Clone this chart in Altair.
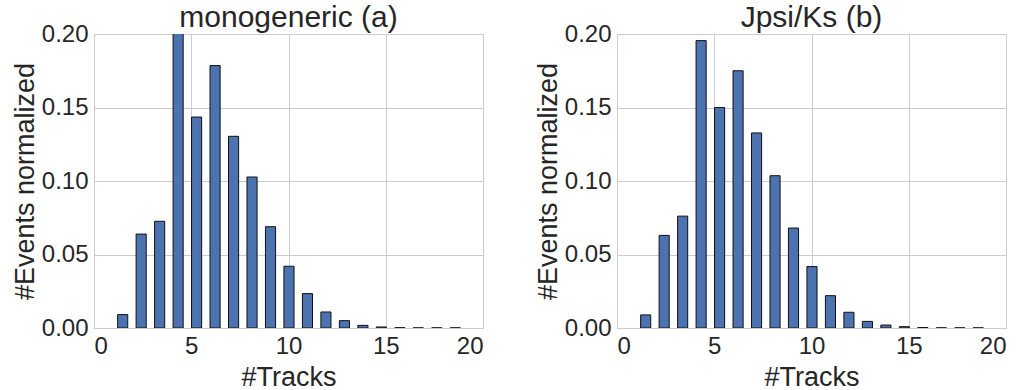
import altair as alt
import pandas as pd

# Histogram bin centres (#Tracks) shared by both samples
bin_centers = [1.475, 2.425, 3.375, 4.325, 5.275, 6.225, 7.175, 8.125, 9.075, 10.025,
               10.975, 11.925, 12.875, 13.825, 14.775, 15.725, 16.675, 17.625, 18.575]

# Normalized event fractions per bin
monogeneric = [0.0091, 0.0639, 0.0726, 0.203, 0.1435, 0.1785, 0.1304, 0.1027, 0.0689, 0.0420,
               0.0234, 0.0109, 0.0050, 0.0018, 0.0007, 0.0002, 0.0001, 0.0001, 0.0001]
jpsi_ks = [0.0089, 0.0630, 0.0761, 0.1955, 0.1500, 0.1750, 0.1327, 0.1036, 0.0680, 0.0418,
           0.0220, 0.0107, 0.0045, 0.0020, 0.0009, 0.0003, 0.0001, 0.0001, 0.0001]

panel_titles = ["monogeneric (a)", "Jpsi/Ks (b)"]
x_ticks = [0, 5, 10, 15, 20]
y_ticks = [0.0, 0.05, 0.10, 0.15, 0.20]

HALF_BAR = 0.26
FONT = "Liberation Sans"
TEXT = "#262626"
BAR = "#4C72B0"


def panel(values, title):
    df = pd.DataFrame({"center": bin_centers, "frac": values})
    return (
        alt.Chart(df, title=alt.Title(title, fontSize=30, font=FONT, color=TEXT,
                                      fontWeight="normal", offset=-11))
        .transform_calculate(lo=f"datum.center - {HALF_BAR}", hi=f"datum.center + {HALF_BAR}")
        .mark_bar(fill=BAR, stroke="#111111", strokeWidth=1, clip=True)
        .encode(
            x=alt.X("lo:Q", scale=alt.Scale(domain=[0, 20], nice=False),
                    axis=alt.Axis(values=x_ticks, title="#Tracks", format="d", titlePadding=6)),
            x2="hi:Q",
            y=alt.Y("frac:Q", scale=alt.Scale(domain=[0, 0.2], nice=False),
                    axis=alt.Axis(values=y_ticks, title="#Events normalized", format=".2f")),
            y2=alt.datum(0),
        )
        .properties(width=389, height=294)
    )


chart = (
    alt.hconcat(panel(monogeneric, panel_titles[0]), panel(jpsi_ks, panel_titles[1]), spacing=49)
    .properties(padding={"left": 10, "top": 2, "right": 5, "bottom": 0}, background="white")
    .configure_view(stroke="#CCCCCC", strokeWidth=1)
    .configure_axis(
        labelFont=FONT, labelFontSize=24, labelColor=TEXT, labelPadding=6,
        titleFont=FONT, titleFontSize=27, titleColor=TEXT, titleFontWeight="normal",
        titlePadding=2, grid=True, gridColor="#CCCCCC", gridWidth=1,
        ticks=False, domain=False,
    )
)

chart.save("out.html", embed_options={"renderer": "svg", "actions": False})
